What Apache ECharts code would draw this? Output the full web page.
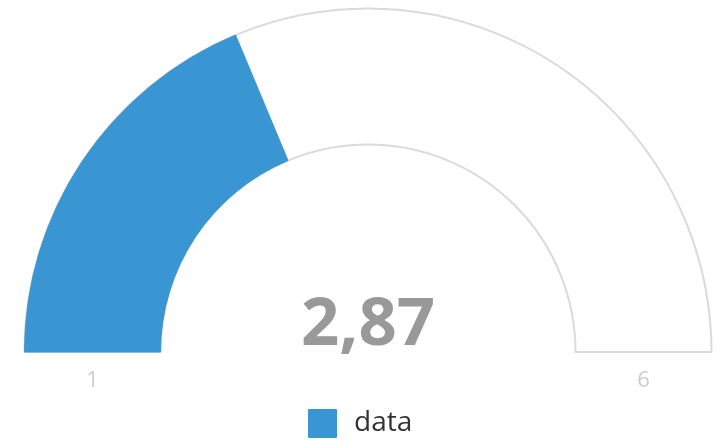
<!DOCTYPE html>
<html>
<head>
<meta charset="utf-8">
<script src="https://cdn.jsdelivr.net/npm/echarts@6/dist/echarts.min.js"></script>
<style>html,body{margin:0;padding:0;background:#fff;}#c{width:728px;height:440px;}</style>
</head>
<body>
<div id="c"></div>
<script>
const categories = ['data'];
const values = [2.87];
const gaugeMin = 1;
const gaugeMax = 6;
const tickLabels = ['1', '6'];

const cx = 368, cy = 352, r0 = 207.5, r1 = 343.5;
const blue = '#3a96d3';
const v = values[0];
const span = gaugeMax - gaugeMin;
const fmt = x => String(x).replace('.', ',');

const chart = echarts.init(document.getElementById('c'));
chart.setOption({
  animation: false,
  backgroundColor: '#fff',
  legend: {
    data: categories,
    top: 409,
    left: 308,
    padding: 0,
    icon: 'rect',
    itemWidth: 27,
    itemHeight: 27,
    textStyle: { fontSize: 28, color: '#333', fontFamily: 'Open Sans', padding: [0, 0, 0, 13] },
    selectedMode: false
  },
  graphic: [
    { type: 'text', silent: true, style: { x: cx, y: cy - 26, text: fmt(v), textAlign: 'center', textVerticalAlign: 'middle', font: 'bold 67px "Open Sans"', fill: '#999' } },
    { type: 'text', silent: true, style: { x: cx - (r0 + r1) / 2, y: cy + 29, text: tickLabels[0], textAlign: 'center', textVerticalAlign: 'middle', font: '22px "Open Sans"', fill: '#cccccc' } },
    { type: 'text', silent: true, style: { x: cx + (r0 + r1) / 2, y: cy + 29, text: tickLabels[1], textAlign: 'center', textVerticalAlign: 'middle', font: '22px "Open Sans"', fill: '#cccccc' } }
  ],
  series: [
    {
      type: 'pie', silent: true, z: 1,
      center: [cx, cy], radius: [r0, r1], startAngle: 180, clockwise: true,
      label: { show: false }, labelLine: { show: false },
      emphasis: { disabled: true },
      data: [
        { value: span, name: 'track', itemStyle: { color: '#fff', borderColor: '#dadada', borderWidth: 2 } },
        { value: span, name: 'hidden1', itemStyle: { color: 'rgba(0,0,0,0)' } }
      ]
    },
    {
      type: 'pie', silent: true, z: 2,
      center: [cx, cy], radius: [r0, r1], startAngle: 180, clockwise: true,
      label: { show: false }, labelLine: { show: false },
      emphasis: { disabled: true },
      data: [
        { value: v - gaugeMin, name: categories[0], itemStyle: { color: blue, borderColor: blue, borderWidth: 1 } },
        { value: gaugeMax - v, name: 'rest', itemStyle: { color: 'rgba(0,0,0,0)' } },
        { value: span, name: 'hidden2', itemStyle: { color: 'rgba(0,0,0,0)' } }
      ]
    }
  ]
});
</script>
</body>
</html>
